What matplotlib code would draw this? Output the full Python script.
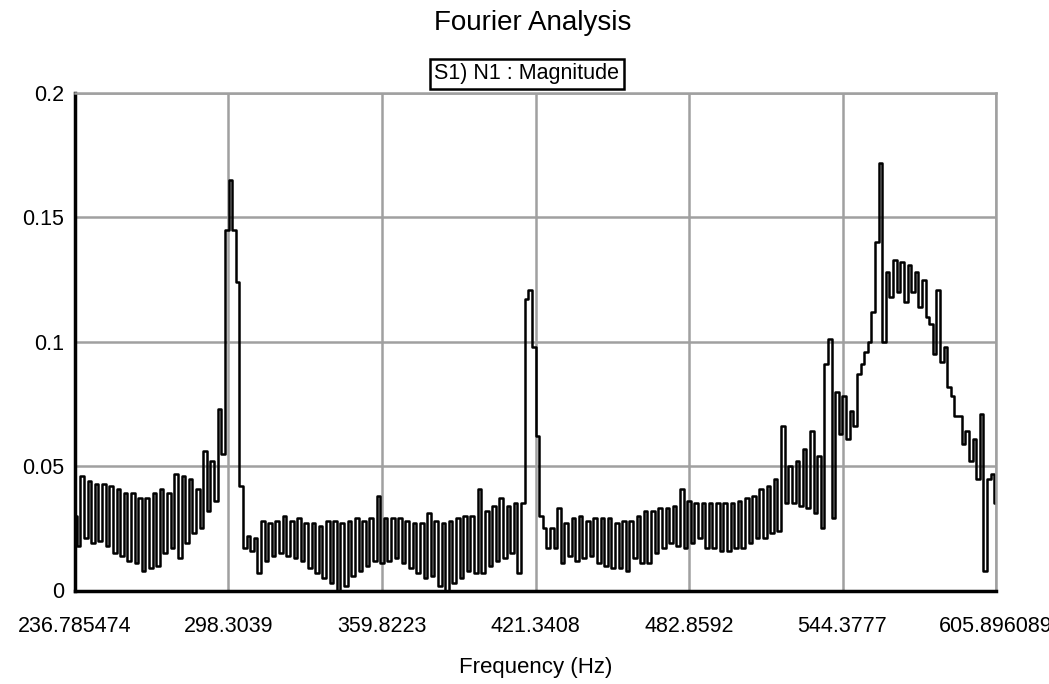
import numpy as np
import matplotlib
matplotlib.use("Agg")
import matplotlib.pyplot as plt

# Fourier magnitude spectrum
f_min = 236.785474
f_max = 605.896089

# low band left of the 298 Hz peak (high, low pairs)
mag_left = [0.030, 0.018, 0.046, 0.021, 0.044, 0.019, 0.043, 0.020,
            0.043, 0.018, 0.042, 0.015, 0.041, 0.014, 0.039, 0.012,
            0.039, 0.011, 0.037, 0.008, 0.037, 0.009, 0.039, 0.010,
            0.041, 0.015, 0.039, 0.017, 0.047, 0.013, 0.046, 0.019,
            0.045, 0.023, 0.041, 0.025, 0.056, 0.032, 0.052, 0.036,
            0.073, 0.055]
peak_298 = [0.145, 0.165, 0.145, 0.124, 0.042, 0.017]

# band between the two sharp peaks
mag_mid = [0.022, 0.016, 0.021, 0.007, 0.028, 0.012, 0.027, 0.014,
           0.028, 0.015, 0.030, 0.014, 0.028, 0.013, 0.029, 0.012,
           0.027, 0.009, 0.027, 0.007, 0.026, 0.005, 0.028, 0.003,
           0.028, 0.000, 0.027, 0.002, 0.028, 0.006, 0.029, 0.008,
           0.028, 0.010, 0.029, 0.012, 0.038, 0.011, 0.029, 0.012,
           0.029, 0.013, 0.029, 0.011, 0.028, 0.009, 0.027, 0.007,
           0.027, 0.005, 0.031, 0.006, 0.028, 0.002, 0.027, 0.000,
           0.028, 0.003, 0.029, 0.005, 0.030, 0.008, 0.030, 0.007,
           0.041, 0.007, 0.032, 0.010, 0.034, 0.012, 0.037, 0.013,
           0.034, 0.015, 0.035, 0.007]
peak_421 = [0.035, 0.117, 0.121, 0.098, 0.062, 0.030, 0.025, 0.017]

# slowly rising band up to the 544 Hz region
mag_right = [0.025, 0.017, 0.033, 0.011, 0.027, 0.014, 0.029, 0.012,
             0.030, 0.013, 0.028, 0.014, 0.029, 0.011, 0.029, 0.010,
             0.029, 0.009, 0.027, 0.009, 0.028, 0.008, 0.028, 0.013,
             0.030, 0.011, 0.032, 0.011, 0.032, 0.015, 0.033, 0.017,
             0.033, 0.019, 0.034, 0.018, 0.041, 0.017, 0.036, 0.019,
             0.035, 0.021, 0.035, 0.017, 0.035, 0.017, 0.035, 0.016,
             0.035, 0.016, 0.035, 0.017, 0.036, 0.017, 0.037, 0.019,
             0.038, 0.021, 0.041, 0.021, 0.042, 0.023, 0.045, 0.024,
             0.066, 0.035, 0.050, 0.035, 0.052, 0.034, 0.057, 0.033,
             0.064, 0.031, 0.054, 0.025]
peak_544 = [0.091, 0.101, 0.029, 0.080, 0.063, 0.078, 0.061, 0.072,
            0.066, 0.087, 0.091, 0.096, 0.100, 0.112, 0.140, 0.172,
            0.100]

# broad hump and fall-off at the top end
mag_hump = [0.128, 0.118, 0.133, 0.120, 0.132, 0.116, 0.131, 0.120,
            0.128, 0.114, 0.125, 0.110, 0.107, 0.095, 0.121, 0.092,
            0.098, 0.082, 0.078, 0.070, 0.070, 0.059, 0.064, 0.052,
            0.061, 0.045, 0.071, 0.008, 0.045, 0.047, 0.035]

magnitude = np.concatenate([mag_left, peak_298, mag_mid, peak_421,
                            mag_right, peak_544, mag_hump])
freq = np.linspace(f_min, f_max, len(magnitude))

x_ticks = [236.785474, 298.3039, 359.8223, 421.3408, 482.8592, 544.3777, 605.896089]
x_labels = ["236.785474", "298.3039", "359.8223", "421.3408", "482.8592", "544.3777", "605.896089"]
y_ticks = [0, 0.05, 0.1, 0.15, 0.2]
y_labels = ["0", "0.05", "0.1", "0.15", "0.2"]

plt.rcParams['font.family'] = ['Liberation Sans', 'DejaVu Sans']

fig = plt.figure(figsize=(10.49, 6.84), dpi=100)
ax = fig.add_axes([75 / 1049, 1 - 590.5 / 684, 921 / 1049, 497.5 / 684])

# stepped trace gives the near-vertical strokes of the original plot
ax.plot(freq, magnitude, color='black', lw=1.8, drawstyle='steps-mid')

ax.set_xlim(f_min, f_max)
ax.set_ylim(0, 0.2)
ax.set_xticks(x_ticks)
ax.set_xticklabels(x_labels)
ax.set_yticks(y_ticks)
ax.set_yticklabels(y_labels)
ax.grid(True, color='#a0a0a0', lw=1.8)
ax.tick_params(axis='both', length=0, labelsize=15.5, colors='black')
ax.tick_params(axis='x', pad=18)
ax.tick_params(axis='y', pad=8)

for side in ['left', 'bottom']:
    ax.spines[side].set_color('black')
    ax.spines[side].set_linewidth(2.5)
for side in ['top', 'right']:
    ax.spines[side].set_color('#a0a0a0')
    ax.spines[side].set_linewidth(1.8)

fig.text(533 / 1049, 1 - 23 / 684, "Fourier Analysis", fontsize=20,
         ha='center', va='center')
fig.text(527 / 1049, 1 - 74 / 684, "S1) N1 : Magnitude", fontsize=15.5,
         ha='center', va='center',
         bbox=dict(boxstyle='square,pad=0.2', fc='white', ec='black', lw=1.8))
fig.text(536 / 1049, 1 - 667 / 684, "Frequency (Hz)", fontsize=16,
         ha='center', va='center')

plt.savefig('out.png', dpi=100)
